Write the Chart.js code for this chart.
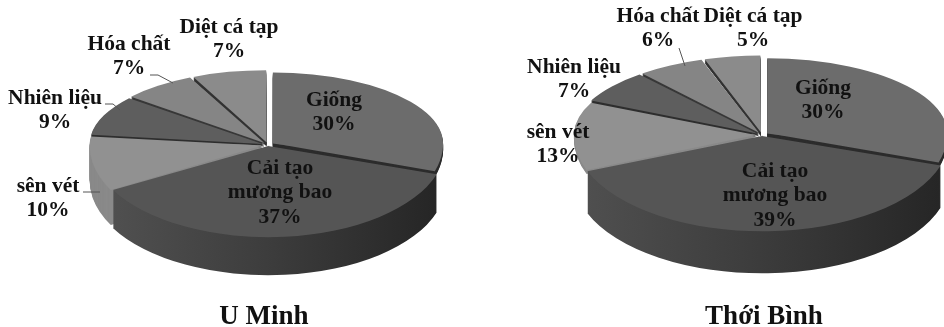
<!DOCTYPE html>
<html lang="vi"><head><meta charset="utf-8">
<style>
html,body{margin:0;padding:0;background:#fff;width:944px;height:327px;overflow:hidden}
.c{position:absolute;top:0;height:327px;filter:blur(0.55px)}
</style>
<script src="https://cdn.jsdelivr.net/npm/chart.js@4"></script>
</head><body>
<div class="c" style="left:0;width:528px"><canvas id="a"></canvas></div>
<div class="c" style="left:472px;width:584px"><canvas id="b"></canvas></div>
<script>
const categories = ['Giống','Cải tạo mương bao','sên vét','Nhiên liệu','Hóa chất','Diệt cá tạp'];
const uMinhValues = [30,37,10,9,7,7];
const thoiBinhValues = [30,39,13,7,6,5];
const titles = ['U Minh','Thới Bình'];

const topColors = ['#6c6c6c','#555555','#919191','#5e5e5e','#858585','#8b8b8b'];
const sideColors = ['#2c2c2c',null,'#8a8a8a','#2e2e2e','#383838','#333333'];
const sliceOffsets = [20,6,20,20,20,20];
const sliceWidthScale = [1,1.04,1,1,1,1];
const labelLines = [['Giống'],['Cải tạo','mương bao'],['sên vét'],['Nhiên liệu'],['Hóa chất'],['Diệt cá tạp']];
const FONT = 'bold 21.5px "Liberation Serif"';

const layouts = [
 {cx:268,cy:145,rx:170,up:71,down:91,sideDepth:[6,38,35,4,4,4],
  labels:[[334,100],[280,168],[48,186],[55,98],[129,44],[229,27]],
  leaders:[[[150,75],[158,75],[173,83]],[[105,104],[113,104],[120,110]],[[83,192],[100,192]]]},
 {cx:290,cy:135,rx:180,up:75,down:95,sideDepth:[6,42,4,4,4,4],
  labels:[[351,88],[303,171],[86,132],[102,67],[186,16],[281,16]],
  leaders:[[[207,48],[213,66]]]}
];

const pie3d = {
 id:'pie3d',
 beforeDatasetsDraw(chart,args,opts){
  const L = opts.layout, ctx = chart.ctx;
  const els = chart.getDatasetMeta(0).data;
  const R = els[0].outerRadius, ox = els[0].x, oy = els[0].y;
  const grad = ctx.createLinearGradient(L.cx-L.rx,0,L.cx+L.rx,0);
  grad.addColorStop(0,'#565656'); grad.addColorStop(.5,'#3c3c3c'); grad.addColorStop(1,'#1f1f1f');
  const paint = (el,i,color,d) => {
   const o = el.options;
   el.options = Object.assign(Object.create(o),{backgroundColor:color,borderWidth:0});
   [[L.up,-2000,L.cy+d+.5+2000],[L.down,L.cy+d-.5,2000]].forEach(([ry,y0,h])=>{
    ctx.save();
    ctx.beginPath(); ctx.rect(0,y0,chart.width,h); ctx.clip();
    ctx.translate(L.cx,L.cy+d);
    ctx.scale(L.rx*sliceWidthScale[i]/R,ry/R);
    ctx.translate(-ox,-oy);
    el.draw(ctx);
    ctx.restore();
   });
   el.options = o;
  };
  for(let d=Math.max(...L.sideDepth);d>=1;d--){
   els.forEach((el,i)=>{ if(d<=L.sideDepth[i]) paint(el,i,sideColors[i]||grad,d); });
  }
  els.forEach((el,i)=>paint(el,i,topColors[i],0));
  return false;
 },
 afterDraw(chart,args,opts){
  const L = opts.layout, ctx = chart.ctx, vals = chart.data.datasets[0].data;
  ctx.save();
  ctx.strokeStyle='#555'; ctx.lineWidth=1;
  L.leaders.forEach(p=>{ctx.beginPath();p.forEach(([x,y],i)=>i?ctx.lineTo(x,y):ctx.moveTo(x,y));ctx.stroke();});
  ctx.fillStyle='#111'; ctx.font=FONT; ctx.textAlign='center'; ctx.textBaseline='middle';
  L.labels.forEach(([x,y],i)=>{
   [...labelLines[i],vals[i]+'%'].forEach((t,k)=>ctx.fillText(t,x,y+k*24.5));
  });
  ctx.restore();
 }
};

function make(id,values,title,layout){
 new Chart(document.getElementById(id),{
  type:'pie',
  data:{labels:categories,datasets:[{data:values,backgroundColor:topColors,borderWidth:0,offset:sliceOffsets}]},
  options:{
   responsive:true,maintainAspectRatio:false,animation:false,events:[],
   plugins:{
    legend:{display:false},tooltip:{enabled:false},
    title:{display:true,text:title,position:'bottom',color:'#111',padding:{top:0,bottom:-4},
      font:{family:'"Liberation Serif"',size:27,weight:'bold',lineHeight:1}},
    pie3d:{layout}
   }
  },
  plugins:[pie3d]
 });
}
make('a',uMinhValues,titles[0],layouts[0]);
make('b',thoiBinhValues,titles[1],layouts[1]);
</script>
</body></html>
